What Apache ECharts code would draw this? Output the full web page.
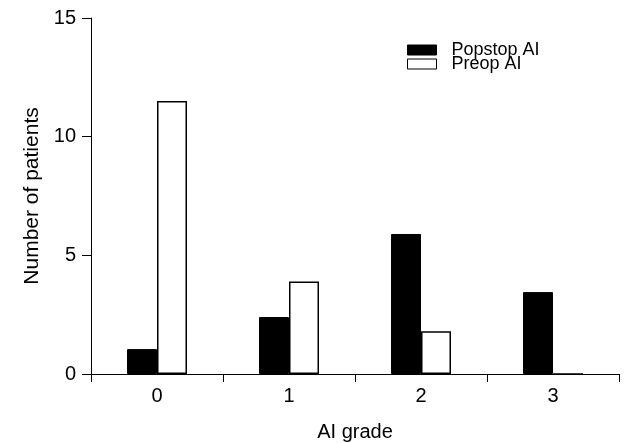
<!DOCTYPE html>
<html>
<head>
<meta charset="utf-8">
<script src="https://cdn.jsdelivr.net/npm/echarts@6/dist/echarts.min.js"></script>
<style>
html,body{margin:0;padding:0;background:#fff;}
#chart{width:624px;height:443px;}
</style>
</head>
<body>
<div id="chart"></div>
<script>
// AI grade bar chart
var categories = ['0', '1', '2', '3'];
var popstopAI = [1.05, 2.4, 5.9, 3.45];
var preopAI = [11.5, 3.9, 1.8, 0];
var yTicks = [0, 5, 10, 15];

var dom_bar = document.getElementById("chart");
var myChart_bar = echarts.init(dom_bar);
var font = 'Liberation Sans, Arial, sans-serif';
var legendText = {fontSize: 18, lineHeight: 20, color: '#000', fontFamily: font, padding: [2, 0, 0, 10]};
var option_bar = {
    animation: false,
    backgroundColor: '#fff',
    textStyle: {fontFamily: font},
    grid: {left: 91, right: 5, top: 18, bottom: 69, outerBoundsMode: 'none'},
    legend: [
        {
            left: 402, top: 34, icon: 'rect',
            itemWidth: 29, itemHeight: 10,
            textStyle: legendText,
            data: [{name: 'Popstop AI', itemStyle: {color: '#000', borderColor: '#000', borderWidth: 1}}]
        },
        {
            left: 402, top: 48, icon: 'rect',
            itemWidth: 29, itemHeight: 10,
            textStyle: legendText,
            data: [{name: 'Preop AI', itemStyle: {color: '#fff', borderColor: '#000', borderWidth: 1}}]
        }
    ],
    xAxis: {
        type: 'category',
        data: categories,
        name: 'AI grade',
        nameLocation: 'middle',
        nameGap: 48,
        nameTextStyle: {fontSize: 20, color: '#000', fontFamily: font},
        axisLine: {lineStyle: {color: '#000', width: 1}},
        axisTick: {show: true, length: 8, lineStyle: {color: '#000'}},
        axisLabel: {fontSize: 20, color: '#000', margin: 12, fontFamily: font}
    },
    yAxis: {
        type: 'value',
        min: yTicks[0], max: yTicks[yTicks.length - 1], interval: 5,
        name: 'Number of patients',
        nameLocation: 'middle',
        nameGap: 47,
        nameTextStyle: {fontSize: 21, color: '#000', fontFamily: font},
        axisLine: {show: true, lineStyle: {color: '#000', width: 1}},
        axisTick: {show: true, length: 9, lineStyle: {color: '#000'}},
        axisLabel: {fontSize: 20, color: '#000', margin: 15, fontFamily: font},
        splitLine: {show: false}
    },
    series: [
        {
            name: 'Popstop AI', type: 'bar', data: popstopAI,
            barWidth: 30, barGap: '0%',
            itemStyle: {color: '#000', borderColor: '#000', borderWidth: 1}
        },
        {
            name: 'Preop AI', type: 'bar', data: preopAI,
            barWidth: 30, barGap: '0%',
            itemStyle: {color: '#fff', borderColor: '#000', borderWidth: 1.5}
        }
    ]
};
if (option_bar && typeof option_bar === "object") {
    myChart_bar.setOption(option_bar, true);
}
</script>
</body>
</html>
